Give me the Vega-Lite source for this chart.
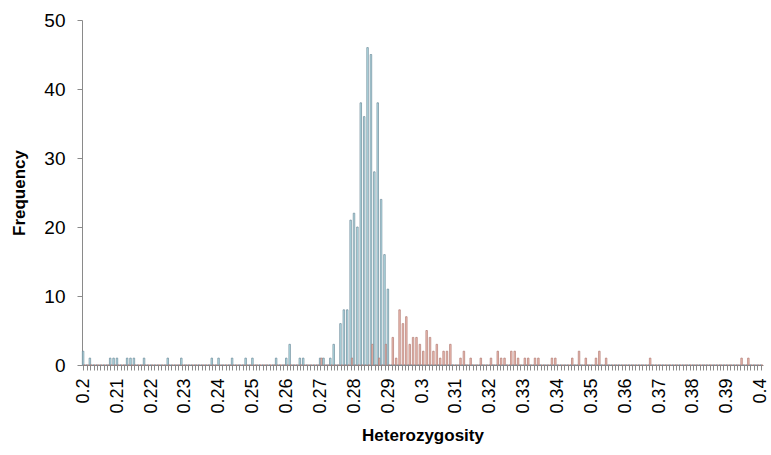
{
"$schema": "https://vega.github.io/schema/vega-lite/v6.json",
"width": 681, "height": 345,
"autosize": {"type": "none"},
"padding": {"left": 82, "top": 20, "right": 8, "bottom": 90},
"background": "white",
"config": {"view": {"stroke": null}, "font": "Liberation Sans"},
"data": {"values": [
{"h":"0.2","a":2,"b":0},{"h":"0.201","a":0,"b":0},{"h":"0.202","a":1,"b":0},{"h":"0.203","a":0,"b":0},{"h":"0.204","a":0,"b":0},{"h":"0.205","a":0,"b":0},{"h":"0.206","a":0,"b":0},{"h":"0.207","a":0,"b":0},{"h":"0.208","a":1,"b":0},{"h":"0.209","a":1,"b":0},
{"h":"0.21","a":1,"b":0},{"h":"0.211","a":0,"b":0},{"h":"0.212","a":0,"b":0},{"h":"0.213","a":1,"b":0},{"h":"0.214","a":1,"b":0},{"h":"0.215","a":1,"b":0},{"h":"0.216","a":0,"b":0},{"h":"0.217","a":0,"b":0},{"h":"0.218","a":1,"b":0},{"h":"0.219","a":0,"b":0},
{"h":"0.22","a":0,"b":0},{"h":"0.221","a":0,"b":0},{"h":"0.222","a":0,"b":0},{"h":"0.223","a":0,"b":0},{"h":"0.224","a":0,"b":0},{"h":"0.225","a":1,"b":0},{"h":"0.226","a":0,"b":0},{"h":"0.227","a":0,"b":0},{"h":"0.228","a":0,"b":0},{"h":"0.229","a":1,"b":0},
{"h":"0.23","a":0,"b":0},{"h":"0.231","a":0,"b":0},{"h":"0.232","a":0,"b":0},{"h":"0.233","a":0,"b":0},{"h":"0.234","a":0,"b":0},{"h":"0.235","a":0,"b":0},{"h":"0.236","a":0,"b":0},{"h":"0.237","a":0,"b":0},{"h":"0.238","a":1,"b":0},{"h":"0.239","a":0,"b":0},
{"h":"0.24","a":1,"b":0},{"h":"0.241","a":0,"b":0},{"h":"0.242","a":0,"b":0},{"h":"0.243","a":0,"b":0},{"h":"0.244","a":1,"b":0},{"h":"0.245","a":0,"b":0},{"h":"0.246","a":0,"b":0},{"h":"0.247","a":0,"b":0},{"h":"0.248","a":1,"b":0},{"h":"0.249","a":0,"b":0},
{"h":"0.25","a":1,"b":0},{"h":"0.251","a":0,"b":0},{"h":"0.252","a":0,"b":0},{"h":"0.253","a":0,"b":0},{"h":"0.254","a":0,"b":0},{"h":"0.255","a":0,"b":0},{"h":"0.256","a":0,"b":0},{"h":"0.257","a":1,"b":0},{"h":"0.258","a":0,"b":0},{"h":"0.259","a":0,"b":0},
{"h":"0.26","a":1,"b":0},{"h":"0.261","a":3,"b":0},{"h":"0.262","a":0,"b":0},{"h":"0.263","a":0,"b":0},{"h":"0.264","a":1,"b":0},{"h":"0.265","a":1,"b":0},{"h":"0.266","a":0,"b":0},{"h":"0.267","a":0,"b":0},{"h":"0.268","a":0,"b":0},{"h":"0.269","a":0,"b":0},
{"h":"0.27","a":1,"b":1},{"h":"0.271","a":1,"b":0},{"h":"0.272","a":0,"b":0},{"h":"0.273","a":1,"b":0},{"h":"0.274","a":3,"b":0},{"h":"0.275","a":0,"b":0},{"h":"0.276","a":6,"b":0},{"h":"0.277","a":8,"b":0},{"h":"0.278","a":8,"b":0},{"h":"0.279","a":21,"b":1},
{"h":"0.28","a":22,"b":0},{"h":"0.281","a":20,"b":0},{"h":"0.282","a":38,"b":0},{"h":"0.283","a":36,"b":0},{"h":"0.284","a":46,"b":0},{"h":"0.285","a":45,"b":3},{"h":"0.286","a":28,"b":0},{"h":"0.287","a":38,"b":1},{"h":"0.288","a":24,"b":0},{"h":"0.289","a":16,"b":3},
{"h":"0.29","a":11,"b":0},{"h":"0.291","a":0,"b":4},{"h":"0.292","a":0,"b":1},{"h":"0.293","a":0,"b":8},{"h":"0.294","a":0,"b":6},{"h":"0.295","a":0,"b":7},{"h":"0.296","a":0,"b":3},{"h":"0.297","a":0,"b":4},{"h":"0.298","a":0,"b":4},{"h":"0.299","a":0,"b":3},
{"h":"0.3","a":0,"b":2},{"h":"0.301","a":0,"b":5},{"h":"0.302","a":0,"b":4},{"h":"0.303","a":0,"b":2},{"h":"0.304","a":0,"b":3},{"h":"0.305","a":0,"b":1},{"h":"0.306","a":0,"b":2},{"h":"0.307","a":0,"b":2},{"h":"0.308","a":0,"b":3},{"h":"0.309","a":0,"b":0},
{"h":"0.31","a":0,"b":0},{"h":"0.311","a":0,"b":1},{"h":"0.312","a":0,"b":2},{"h":"0.313","a":0,"b":0},{"h":"0.314","a":0,"b":1},{"h":"0.315","a":0,"b":0},{"h":"0.316","a":0,"b":0},{"h":"0.317","a":0,"b":1},{"h":"0.318","a":0,"b":0},{"h":"0.319","a":0,"b":0},
{"h":"0.32","a":0,"b":1},{"h":"0.321","a":0,"b":0},{"h":"0.322","a":0,"b":2},{"h":"0.323","a":0,"b":1},{"h":"0.324","a":0,"b":1},{"h":"0.325","a":0,"b":0},{"h":"0.326","a":0,"b":2},{"h":"0.327","a":0,"b":2},{"h":"0.328","a":0,"b":1},{"h":"0.329","a":0,"b":0},
{"h":"0.33","a":0,"b":1},{"h":"0.331","a":0,"b":1},{"h":"0.332","a":0,"b":0},{"h":"0.333","a":0,"b":1},{"h":"0.334","a":0,"b":1},{"h":"0.335","a":0,"b":0},{"h":"0.336","a":0,"b":0},{"h":"0.337","a":0,"b":0},{"h":"0.338","a":0,"b":1},{"h":"0.339","a":0,"b":1},
{"h":"0.34","a":0,"b":0},{"h":"0.341","a":0,"b":0},{"h":"0.342","a":0,"b":0},{"h":"0.343","a":0,"b":0},{"h":"0.344","a":0,"b":1},{"h":"0.345","a":0,"b":0},{"h":"0.346","a":0,"b":2},{"h":"0.347","a":0,"b":0},{"h":"0.348","a":0,"b":1},{"h":"0.349","a":0,"b":0},
{"h":"0.35","a":0,"b":0},{"h":"0.351","a":0,"b":1},{"h":"0.352","a":0,"b":2},{"h":"0.353","a":0,"b":0},{"h":"0.354","a":0,"b":1},{"h":"0.355","a":0,"b":0},{"h":"0.356","a":0,"b":0},{"h":"0.357","a":0,"b":0},{"h":"0.358","a":0,"b":0},{"h":"0.359","a":0,"b":0},
{"h":"0.36","a":0,"b":0},{"h":"0.361","a":0,"b":0},{"h":"0.362","a":0,"b":0},{"h":"0.363","a":0,"b":0},{"h":"0.364","a":0,"b":0},{"h":"0.365","a":0,"b":0},{"h":"0.366","a":0,"b":0},{"h":"0.367","a":0,"b":1},{"h":"0.368","a":0,"b":0},{"h":"0.369","a":0,"b":0},
{"h":"0.37","a":0,"b":0},{"h":"0.371","a":0,"b":0},{"h":"0.372","a":0,"b":0},{"h":"0.373","a":0,"b":0},{"h":"0.374","a":0,"b":0},{"h":"0.375","a":0,"b":0},{"h":"0.376","a":0,"b":0},{"h":"0.377","a":0,"b":0},{"h":"0.378","a":0,"b":0},{"h":"0.379","a":0,"b":0},
{"h":"0.38","a":0,"b":0},{"h":"0.381","a":0,"b":0},{"h":"0.382","a":0,"b":0},{"h":"0.383","a":0,"b":0},{"h":"0.384","a":0,"b":0},{"h":"0.385","a":0,"b":0},{"h":"0.386","a":0,"b":0},{"h":"0.387","a":0,"b":0},{"h":"0.388","a":0,"b":0},{"h":"0.389","a":0,"b":0},
{"h":"0.39","a":0,"b":0},{"h":"0.391","a":0,"b":0},{"h":"0.392","a":0,"b":0},{"h":"0.393","a":0,"b":0},{"h":"0.394","a":0,"b":1},{"h":"0.395","a":0,"b":0},{"h":"0.396","a":0,"b":1},{"h":"0.397","a":0,"b":0},{"h":"0.398","a":0,"b":0},{"h":"0.399","a":0,"b":0},
{"h":"0.4","a":0,"b":0}
]},
"transform": [{"fold": ["a", "b"], "as": ["series", "count"]}],
"mark": {"type": "bar", "strokeWidth": 0.7},
"encoding": {
  "x": {"field": "h", "type": "ordinal", "sort": null,
    "scale": {"paddingInner": 0.1, "paddingOuter": 0.1},
    "axis": {"title": "Heterozygosity", "labelAngle": -90, "labelAlign": "right", "labelBaseline": "middle",
      "labelExpr": "round(toNumber(datum.value)*1000) % 10 == 0 ? datum.value : ''",
      "labelOverlap": false, "labelFontSize": 18, "labelColor": "black", "labelPadding": 8,
      "tickSize": 5, "tickColor": "#8a8a8a", "domainColor": "#8a8a8a",
      "titleFontSize": 17, "titleFontWeight": "bold", "titleColor": "black", "titlePadding": 14}},
  "xOffset": {"field": "series", "type": "nominal", "sort": ["a", "b"]},
  "y": {"field": "count", "type": "quantitative", "scale": {"domain": [0, 50]},
    "axis": {"title": "Frequency", "values": [0, 10, 20, 30, 40, 50], "grid": false,
      "tickSize": 5, "tickColor": "#8a8a8a", "domainColor": "#8a8a8a",
      "labelFontSize": 19, "labelColor": "black", "labelPadding": 12,
      "titleFontSize": 17, "titleFontWeight": "bold", "titleColor": "black", "titlePadding": 15}},
  "fill": {"field": "series", "type": "nominal", "scale": {"domain": ["a", "b"], "range": ["#bdeaf0", "#f2c2b6"]}, "legend": null},
  "stroke": {"field": "series", "type": "nominal", "scale": {"domain": ["a", "b"], "range": ["#6c8797", "#b07a72"]}, "legend": null}
}
}
